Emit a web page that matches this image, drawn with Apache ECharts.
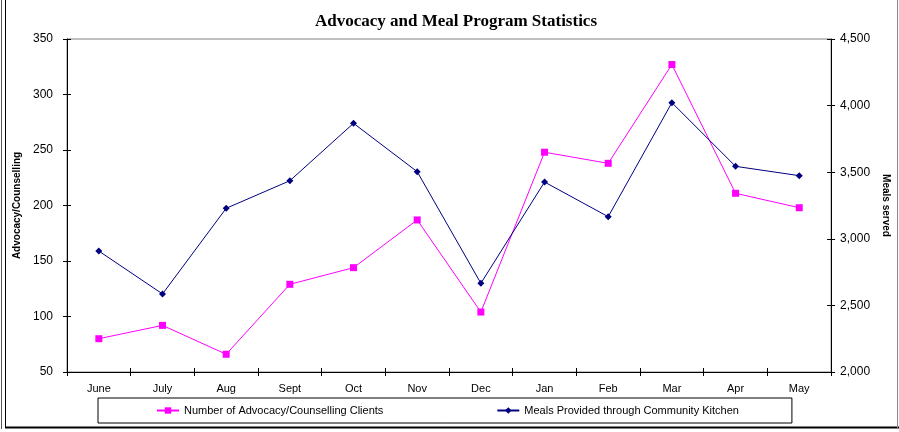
<!DOCTYPE html>
<html>
<head>
<meta charset="utf-8">
<script src="https://cdn.jsdelivr.net/npm/echarts@6/dist/echarts.min.js"></script>
<style>
html,body{margin:0;padding:0;background:#fff;}
#c{width:899px;height:432px;}
</style>
</head>
<body>
<div id="c"></div>
<script>
const months = ['June','July','Aug','Sept','Oct','Nov','Dec','Jan','Feb','Mar','Apr','May'];
const advocacyClients = [80, 92, 66, 129, 144, 187, 104, 248, 238, 327, 211, 198];
const mealsServed = [2908, 2586, 3229, 3436, 3867, 3504, 2666, 3426, 3166, 4022, 3544, 3474];
const leftTicks = {min: 50, max: 350, interval: 50};
const rightTicks = {min: 2000, max: 4500, interval: 500};

const chart = echarts.init(document.getElementById('c'), null, {renderer: 'canvas'});
const sans = 'Arial, "Liberation Sans", sans-serif';
const axisLineStyle = {show: true, lineStyle: {color: '#000', width: 1}};
const fmt = v => v.toLocaleString('en-US');

chart.setOption({
  backgroundColor: '#fff',
  animation: false,
  title: {
    text: 'Advocacy and Meal Program Statistics',
    left: 310, top: 8,
    textStyle: {fontFamily: '"Times New Roman", "Liberation Serif", serif', fontWeight: 'bold', fontSize: 17, color: '#000'}
  },
  grid: {left: 67, right: 67, top: 39, bottom: 60, show: true, borderColor: '#808080', borderWidth: 1},
  legend: {
    left: 98, top: 398,
    padding: [7, 53, 7, 58],
    itemGap: 113,
    itemWidth: 22, itemHeight: 8,
    borderColor: '#000', borderWidth: 1,
    textStyle: {fontFamily: sans, fontSize: 11, color: '#000'},
    data: ['Number of Advocacy/Counselling Clients', 'Meals Provided through Community Kitchen']
  },
  xAxis: [
    {
      type: 'category', data: months, boundaryGap: true,
      axisLine: axisLineStyle,
      axisTick: {show: true, length: 4, lineStyle: {color: '#000'}},
      axisLabel: {fontFamily: sans, fontSize: 11, color: '#000', margin: 11},
      splitLine: {show: false}
    },
    {
      type: 'category', data: months, boundaryGap: true, position: 'bottom',
      axisLine: {show: false},
      axisTick: {show: true, inside: true, length: 4, lineStyle: {color: '#000'}},
      axisLabel: {show: false},
      splitLine: {show: false}
    }
  ],
  yAxis: [
    {
      type: 'value', position: 'left', min: leftTicks.min, max: leftTicks.max, interval: leftTicks.interval,
      name: 'Advocacy/Counselling', nameLocation: 'middle', nameRotate: 90, nameGap: 42,
      nameTextStyle: {fontFamily: sans, fontSize: 10, fontWeight: 'bold', color: '#000'},
      axisLine: axisLineStyle,
      axisTick: {show: true, length: 4, lineStyle: {color: '#000'}},
      axisLabel: {fontFamily: sans, fontSize: 12, color: '#000', margin: 14},
      splitLine: {show: false}
    },
    {
      type: 'value', position: 'right', min: rightTicks.min, max: rightTicks.max, interval: rightTicks.interval,
      name: 'Meals served', nameLocation: 'middle', nameRotate: -90, nameGap: 46,
      nameTextStyle: {fontFamily: sans, fontSize: 10, fontWeight: 'bold', color: '#000'},
      axisLine: axisLineStyle,
      axisTick: {show: true, length: 4, lineStyle: {color: '#000'}},
      axisLabel: {fontFamily: sans, fontSize: 12, color: '#000', margin: 9, formatter: fmt},
      splitLine: {show: false}
    },
    {
      type: 'value', position: 'left', min: leftTicks.min, max: leftTicks.max, interval: leftTicks.interval,
      axisLine: {show: false},
      axisTick: {show: true, inside: true, length: 4, lineStyle: {color: '#000'}},
      axisLabel: {show: false}, splitLine: {show: false}
    },
    {
      type: 'value', position: 'right', min: rightTicks.min, max: rightTicks.max, interval: rightTicks.interval,
      axisLine: {show: false},
      axisTick: {show: true, inside: true, length: 4, lineStyle: {color: '#000'}},
      axisLabel: {show: false}, splitLine: {show: false}
    }
  ],
  series: [
    {
      name: 'Number of Advocacy/Counselling Clients', type: 'line', xAxisIndex: 0, yAxisIndex: 0,
      data: advocacyClients,
      symbol: 'rect', symbolSize: 7,
      itemStyle: {color: '#FF00FF'},
      lineStyle: {color: '#FF00FF', width: 1}
    },
    {
      name: 'Meals Provided through Community Kitchen', type: 'line', xAxisIndex: 0, yAxisIndex: 1,
      data: mealsServed,
      symbol: 'diamond', symbolSize: 7,
      itemStyle: {color: '#000080'},
      lineStyle: {color: '#000080', width: 1}
    }
  ],
  graphic: [
    {type: 'line', shape: {x1: 1.5, y1: 0, x2: 1.5, y2: 429}, style: {stroke: '#555', lineWidth: 1}},
    {type: 'line', shape: {x1: 5.5, y1: 0, x2: 5.5, y2: 428}, style: {stroke: '#000', lineWidth: 1}},
    {type: 'line', shape: {x1: 5, y1: 427.5, x2: 899, y2: 427.5}, style: {stroke: '#000', lineWidth: 2}},
    {type: 'line', shape: {x1: 897.5, y1: 0, x2: 897.5, y2: 428}, style: {stroke: '#888', lineWidth: 1}}
  ]
});
</script>
</body>
</html>
